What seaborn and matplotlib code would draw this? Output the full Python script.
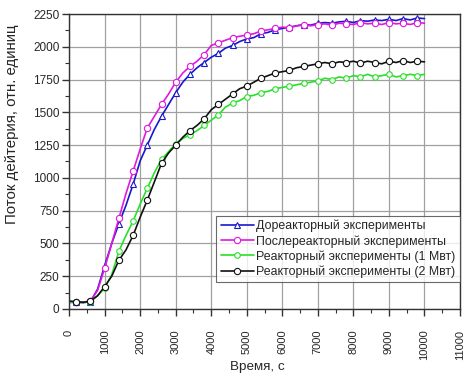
import numpy as np
import pandas as pd
import seaborn as sns
import matplotlib.pyplot as plt
from matplotlib.ticker import MultipleLocator

# -----------------------------------
# Data (200 s step)
# -----------------------------------

time_s = list(range(0, 10001, 200))

pre_reactor = [50, 50, 48, 55, 150, 330, 500, 650, 790, 950,
               1130, 1250, 1370, 1470, 1560, 1650, 1730, 1790, 1840, 1880,
               1920, 1950, 1990, 2010, 2040, 2060, 2070, 2100, 2110, 2130,
               2140, 2150, 2160, 2170, 2165, 2180, 2185, 2180, 2190, 2195,
               2185, 2200, 2195, 2205, 2200, 2210, 2200, 2215, 2205, 2220,
               2215]

post_reactor = [50, 52, 50, 60, 140, 310, 500, 690, 880, 1050,
                1220, 1380, 1470, 1560, 1640, 1730, 1800, 1850, 1890, 1940,
                2010, 2030, 2050, 2070, 2080, 2090, 2100, 2120, 2130, 2140,
                2150, 2145, 2160, 2165, 2160, 2170, 2175, 2165, 2180, 2175,
                2170, 2185, 2175, 2180, 2170, 2185, 2175, 2180, 2170, 2185,
                2180]

reactor_1mw = [50, 55, 50, 55, 100, 160, 260, 440, 560, 670,
               800, 920, 1040, 1140, 1200, 1260, 1300, 1330, 1360, 1400,
               1440, 1480, 1540, 1570, 1590, 1620, 1630, 1650, 1660, 1680,
               1690, 1700, 1710, 1720, 1730, 1740, 1760, 1750, 1770, 1760,
               1780, 1770, 1790, 1770, 1780, 1790, 1770, 1780, 1790, 1780,
               1790]

reactor_2mw = [60, 55, 50, 60, 100, 170, 250, 370, 450, 560,
               700, 830, 970, 1110, 1190, 1250, 1310, 1360, 1400, 1450,
               1520, 1560, 1600, 1640, 1680, 1700, 1730, 1760, 1780, 1800,
               1810, 1820, 1840, 1850, 1860, 1870, 1880, 1870, 1885, 1880,
               1890, 1875, 1890, 1880, 1870, 1890, 1880, 1895, 1880, 1890,
               1885]

labels = [
    "Дореакторный эксперименты",
    "Послереакторный эксперименты",
    "Реакторный эксперименты (1 Мвт)",
    "Реакторный эксперименты (2 Мвт)",
]

# -----------------------------------
# Style
# -----------------------------------

sns.set_style("whitegrid")
plt.rcParams['font.family'] = ['Liberation Sans', 'DejaVu Sans']

fig, ax = plt.subplots(figsize=(4.67, 3.79), dpi=100)
fig.subplots_adjust(left=0.148, right=0.985, top=0.963, bottom=0.185)

series = [
    (pre_reactor, "#1818cc", "^", 4.5),
    (post_reactor, "#e018e0", "o", 4.5),
    (reactor_1mw, "#28e028", "o", 4.0),
    (reactor_2mw, "#111111", "o", 4.5),
]

for (values, color, marker, msize), label in zip(series, labels):
    df = pd.DataFrame({"t": time_s, "v": values})
    sns.lineplot(
        data=df, x="t", y="v", ax=ax,
        color=color, linewidth=1.2,
        marker=marker, markersize=msize,
        markerfacecolor="white", markeredgecolor=color,
        markeredgewidth=0.8, markevery=(1, 2),
        label=label
    )

# -----------------------------------
# Axes
# -----------------------------------

ax.set_xlim(0, 11000)
ax.set_ylim(0, 2250)
ax.xaxis.set_major_locator(MultipleLocator(1000))
ax.xaxis.set_minor_locator(MultipleLocator(500))
ax.yaxis.set_major_locator(MultipleLocator(250))
ax.yaxis.set_minor_locator(MultipleLocator(125))

ax.grid(True, which="major", color="#a0a0a0", linewidth=0.9)
for s in ax.spines.values():
    s.set_color("#333333")
    s.set_linewidth(1.0)

ax.tick_params(axis="both", which="major", direction="out", length=5,
               width=1, color="#333333", bottom=True, left=True)
ax.tick_params(axis="both", which="minor", direction="out", length=3,
               width=0.8, color="#333333", bottom=True, left=True)
ax.tick_params(axis="y", which="major", labelsize=8.5, pad=2)
ax.tick_params(axis="x", which="major", labelsize=8, pad=10)
plt.setp(ax.get_xticklabels(), rotation=90)

ax.set_xlabel("Время, с", fontsize=9.7)
ax.set_ylabel("Поток дейтерия, отн. единиц", fontsize=10.8)
ax.xaxis.set_label_coords(0.481, -0.176)
ax.yaxis.set_label_coords(-0.128, 0.625)

leg = ax.legend(
    loc="lower right", bbox_to_anchor=(1.0, 0.09),
    borderaxespad=0, fontsize=8.9, frameon=True, fancybox=False,
    handlelength=2.7, handletextpad=0.2, labelspacing=0.22,
    borderpad=0.35
)
leg.get_frame().set_edgecolor("#444444")
leg.get_frame().set_linewidth(0.8)

plt.savefig("out.png", dpi=100)
